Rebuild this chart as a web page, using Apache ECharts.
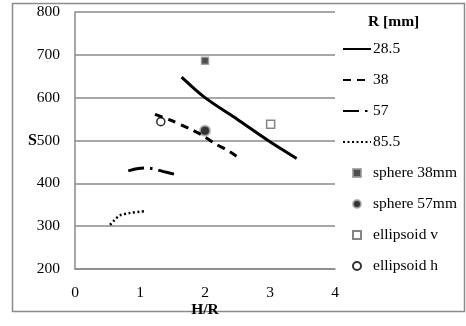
<!DOCTYPE html>
<html>
<head>
<meta charset="utf-8">
<script src="https://cdn.jsdelivr.net/npm/echarts@6/dist/echarts.min.js"></script>
<style>
  html, body { margin: 0; padding: 0; background: #fff; }
  #chart { width: 466px; height: 326px; }
</style>
</head>
<body>
<div id="chart"></div>
<script>
// S vs H/R for several radii R [mm]
const xTicks = [0, 1, 2, 3, 4];
const yTicks = [200, 300, 400, 500, 600, 700, 800];

const hr285 = [1.64, 2.0, 2.5, 2.97, 3.41];
const s285 = [648, 600, 549, 500, 458];

const hr38 = [1.23, 1.46, 1.77, 1.95, 2.15, 2.38, 2.55];
const s38 = [561, 548, 527, 513, 493, 474, 456];

const hr57 = [0.82, 0.95, 1.08, 1.2, 1.35, 1.59];
const s57 = [429, 434, 436, 434, 428, 419];

const hr855 = [0.54, 0.6, 0.69, 0.85, 1.0, 1.08];
const s855 = [303, 313, 325, 331, 334, 335];

const sphere38 = [[2.0, 686]];
const sphere57 = [[2.0, 523]];
const ellipsoidV = [[3.01, 538]];
const ellipsoidH = [[1.32, 544]];

const font = 'Liberation Serif';
const gray = '#8a8a8a';
const squareIcon = 'path://M0,0H10V10H0Z';

const zip = (xs, ys) => xs.map((x, i) => [x, ys[i]]);

const lineSeries = (name, xs, ys, type, width) => ({
  name: name,
  type: 'line',
  data: zip(xs, ys),
  smooth: 0.3,
  symbol: 'none',
  lineStyle: { color: '#000', width: width, type: type, cap: 'butt' },
  itemStyle: { color: '#000' }
});

const lineLegend = name => ({ name: name, itemStyle: { opacity: 0 } });

const chart = echarts.init(document.getElementById('chart'));
chart.setOption({
  animation: false,
  textStyle: { fontFamily: font },
  title: {
    text: 'R [mm]',
    left: 363,
    top: 9,
    textStyle: { fontFamily: font, fontSize: 15.5, fontWeight: 'bold', color: '#000' }
  },
  legend: {
    orient: 'vertical',
    left: 337,
    top: 36,
    itemWidth: 28,
    itemHeight: 8,
    itemGap: 15,
    textStyle: { fontFamily: font, fontSize: 15.5, color: '#000', padding: [0, 0, 0, -3] },
    data: [
      lineLegend('28.5'), lineLegend('38'), lineLegend('57'), lineLegend('85.5'),
      { name: 'sphere 38mm', icon: squareIcon },
      { name: 'sphere 57mm', icon: 'circle' },
      { name: 'ellipsoid v', icon: squareIcon },
      { name: 'ellipsoid h', icon: 'circle' }
    ]
  },
  grid: { left: 75, right: 131, top: 12, bottom: 57 },
  xAxis: {
    type: 'value',
    min: xTicks[0],
    max: xTicks[xTicks.length - 1],
    interval: 1,
    name: 'H/R',
    nameLocation: 'middle',
    nameGap: 33,
    nameMoveOverlap: false,
    nameTextStyle: { fontFamily: font, fontSize: 15.5, fontWeight: 'bold', color: '#000' },
    axisLine: { show: true, lineStyle: { color: gray, width: 1.5 } },
    axisTick: { show: false },
    splitLine: { show: false },
    axisLabel: { fontFamily: font, fontSize: 15.5, color: '#000', margin: 16 }
  },
  yAxis: {
    type: 'value',
    min: yTicks[0],
    max: yTicks[yTicks.length - 1],
    interval: 100,
    name: 'S',
    nameLocation: 'middle',
    nameRotate: 0,
    nameGap: 38,
    nameMoveOverlap: false,
    nameTextStyle: { fontFamily: font, fontSize: 16, fontWeight: 'bold', color: '#000' },
    axisLine: { show: true, lineStyle: { color: gray, width: 1.5 } },
    axisTick: { show: false },
    splitLine: { show: true, lineStyle: { color: gray, width: 1.5 } },
    axisLabel: { fontFamily: font, fontSize: 15.5, color: '#000', margin: 15 }
  },
  graphic: [{
    type: 'rect',
    shape: { x: 12.5, y: 3.5, width: 452, height: 308 },
    style: { fill: 'none', stroke: gray, lineWidth: 1.5 },
    silent: true
  }],
  series: [
    lineSeries('28.5', hr285, s285, 'solid', 3),
    lineSeries('38', hr38, s38, [8, 6], 3),
    lineSeries('57', hr57, s57, [16, 6, 2.5, 6], 3),
    lineSeries('85.5', hr855, s855, [2, 2.5], 2.5),
    {
      name: 'sphere 38mm', type: 'scatter', data: sphere38, symbol: 'rect', symbolSize: 7,
      itemStyle: { color: '#222', borderColor: '#999', borderWidth: 1.5 }
    },
    {
      name: 'sphere 57mm', type: 'scatter', data: sphere57, symbol: 'circle', symbolSize: 10,
      itemStyle: { color: '#000', borderColor: '#aaa', borderWidth: 2 }
    },
    {
      name: 'ellipsoid v', type: 'scatter', data: ellipsoidV, symbol: 'rect', symbolSize: 8,
      itemStyle: { color: '#fff', borderColor: '#666', borderWidth: 1.5 }
    },
    {
      name: 'ellipsoid h', type: 'scatter', data: ellipsoidH, symbol: 'circle', symbolSize: 8,
      itemStyle: { color: '#fff', borderColor: '#000', borderWidth: 1.6 }
    }
  ]
});
</script>
</body>
</html>
